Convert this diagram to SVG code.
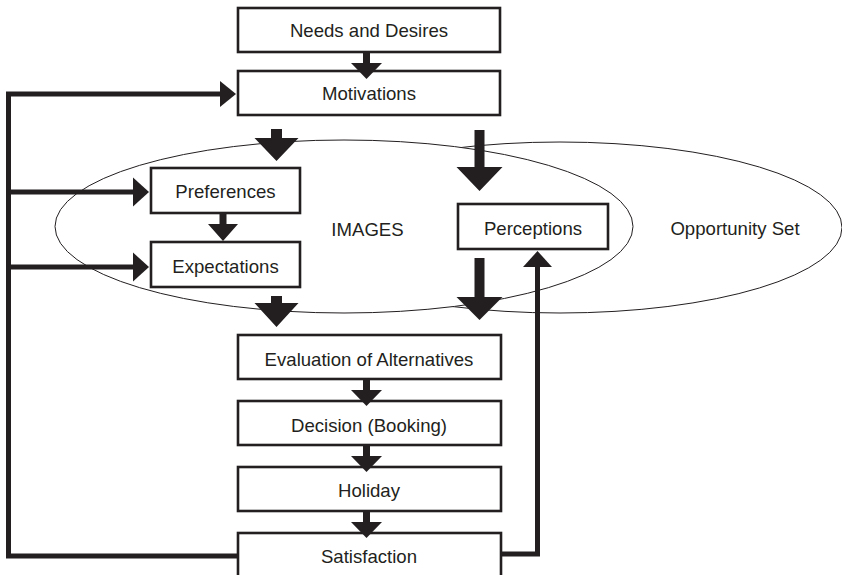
<svg xmlns="http://www.w3.org/2000/svg" width="842" height="575" viewBox="0 0 842 575">
<style>
.box{fill:#fff;stroke:#231f20;stroke-width:2.6}
.ell{fill:#fff;stroke:#231f20;stroke-width:1}
.lbl{font-family:"Liberation Sans",Arial,sans-serif;font-size:18.6px;fill:#231f20;text-anchor:middle}
.ar{fill:#231f20;stroke:none}
.fb{fill:none;stroke:#231f20;stroke-width:5;stroke-linejoin:miter}
</style>
<rect width="842" height="575" fill="#fff"/>
<g id="opportunity-set">
<ellipse class="ell" cx="560" cy="227.5" rx="282" ry="85.5"/>
<text class="lbl" x="735" y="235">Opportunity Set</text>
</g>
<g id="images">
<ellipse class="ell" cx="344" cy="226.5" rx="289" ry="86.5"/>
<text class="lbl" x="367.5" y="236">IMAGES</text>
</g>
<g id="needs">
<rect class="box" x="238" y="8" width="262" height="44"/>
<text class="lbl" x="369" y="37">Needs and Desires</text>
</g>
<g id="motivations">
<rect class="box" x="238" y="71" width="262" height="44"/>
<text class="lbl" x="369" y="100">Motivations</text>
</g>
<g id="preferences">
<rect class="box" x="151" y="168" width="149" height="45"/>
<text class="lbl" x="225.5" y="198">Preferences</text>
</g>
<g id="expectations">
<rect class="box" x="151" y="242" width="149" height="45"/>
<text class="lbl" x="225.5" y="273">Expectations</text>
</g>
<g id="perceptions">
<rect class="box" x="458" y="204" width="150" height="45"/>
<text class="lbl" x="533" y="235">Perceptions</text>
</g>
<g id="evaluation">
<rect class="box" x="238" y="335" width="263" height="44"/>
<text class="lbl" x="369" y="366">Evaluation of Alternatives</text>
</g>
<g id="decision">
<rect class="box" x="238" y="401" width="263" height="44"/>
<text class="lbl" x="369" y="432">Decision (Booking)</text>
</g>
<g id="holiday">
<rect class="box" x="238" y="467" width="263" height="44"/>
<text class="lbl" x="369" y="497">Holiday</text>
</g>
<g id="satisfaction">
<rect class="box" x="238" y="533" width="263" height="48"/>
<text class="lbl" x="369" y="563">Satisfaction</text>
</g>
<g id="connectors">
<polygon class="ar" points="363,52 370,52 370,63 382,63 366.5,79 351,63 363,63"/>
<polygon class="ar" points="363,379 370,379 370,390 382,390 366.5,406 351,390 363,390"/>
<polygon class="ar" points="363,445 370,445 370,456 382,456 366.5,472 351,456 363,456"/>
<polygon class="ar" points="363,511 370,511 370,522 382,522 366.5,538 351,522 363,522"/>
<polygon class="ar" points="219.5,213 226.5,213 226.5,224 238,224 223,241 208,224 219.5,224"/>
<polygon class="ar" points="271,129 282,129 282,138 298.5,138 276.5,161 254.5,138 271,138"/>
<polygon class="ar" points="271,296 282,296 282,303 298.5,303 276.5,327 254.5,303 271,303"/>
<polygon class="ar" points="474.5,130 484.5,130 484.5,167 502.5,167 479.5,191 456.5,167 474.5,167"/>
<polygon class="ar" points="474.5,258 484.5,258 484.5,297 502.5,297 479.5,320 456.5,297 474.5,297"/>
<polyline class="fb" points="238,556 8.5,556 8.5,94 221,94"/>
<line class="fb" x1="8.5" y1="192" x2="134" y2="192"/>
<line class="fb" x1="8.5" y1="267" x2="134" y2="267"/>
<polygon class="ar" points="220,81 236,94 220,107"/>
<polygon class="ar" points="133,177.5 149,192 133,206.5"/>
<polygon class="ar" points="133,252.5 149,267 133,281.5"/>
<polyline class="fb" points="501,554 537.5,554 537.5,266"/>
<polygon class="ar" points="523,267 537.5,251 552,267"/>
</g>
</svg>
